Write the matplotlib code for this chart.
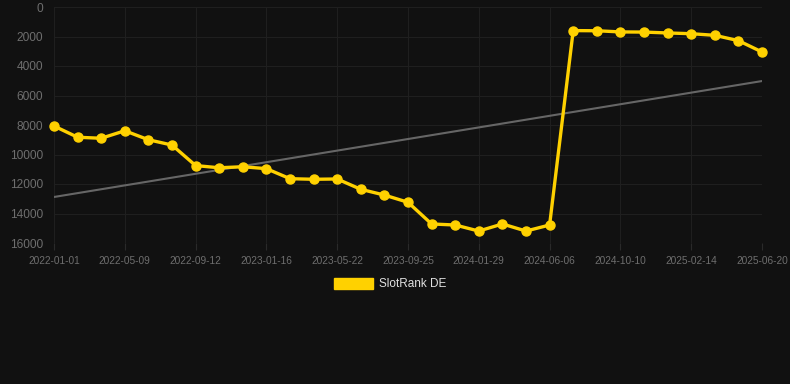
import numpy as np
import matplotlib.pyplot as plt
from matplotlib.patches import Patch

# ---------------- DATA ---------------- #
tick_labels = ["2022-01-01", "2022-05-09", "2022-09-12", "2023-01-16",
               "2023-05-22", "2023-09-25", "2024-01-29", "2024-06-06",
               "2024-10-10", "2025-02-14", "2025-06-20"]

rank = [8070, 8830, 8900, 8390, 9000, 9360, 10750, 10900, 10830, 10960,
        11640, 11680, 11660, 12360, 12750, 13240, 14710, 14780, 15190, 14710,
        15190, 14780, 1600, 1610, 1690, 1700, 1760, 1810, 1920, 2280, 3050]

trend_start = 12880
trend_end = 5020

series_name = "SlotRank DE"

# ---------------- STYLE ---------------- #
plt.rcParams["font.family"] = ["Liberation Sans", "DejaVu Sans"]
bg = "#111111"
grid_c = "#1f1f1f"
tick_c = "#6e6e6e"
yellow = "#FFD100"

W, H = 790, 384
fig = plt.figure(figsize=(W / 100, H / 100), dpi=100, facecolor=bg)
ax = fig.add_axes([54 / W, (H - 243) / H, (762 - 54) / W, 236 / H], facecolor=bg)

x = np.arange(len(rank))

# trend line
ax.plot([x[0], x[-1]], [trend_start, trend_end], color="#666666", lw=1.5, zorder=2)

# main series
ax.plot(x, rank, color=yellow, lw=2.4, marker="o", markersize=6.5,
        markerfacecolor=yellow, markeredgecolor=yellow, zorder=3, clip_on=False)

ax.set_xlim(0, len(rank) - 1)
ax.set_ylim(16000, 0)
ax.set_yticks(np.arange(0, 16001, 2000))
ax.set_xticks(x[::3])
ax.set_xticklabels(tick_labels)

ax.grid(True, color=grid_c, lw=0.8)
ax.set_axisbelow(True)
for s in ax.spines.values():
    s.set_visible(False)

ax.tick_params(axis="y", length=0, pad=8, labelsize=8.6, labelcolor=tick_c)
ax.tick_params(axis="x", length=5, width=0.8, color="#2a2a2a", pad=4,
               labelsize=7.3, labelcolor=tick_c)

# legend
handle = Patch(facecolor=yellow, edgecolor=yellow, label=series_name)
fig.legend(handles=[handle], loc="center", bbox_to_anchor=(390 / W, 1 - 284 / H),
           frameon=False, fontsize=8.5, labelcolor="#e0e0e0",
           handlelength=3.3, handleheight=1.1, handletextpad=0.5)

fig.savefig("out.png", dpi=100, facecolor=bg)
